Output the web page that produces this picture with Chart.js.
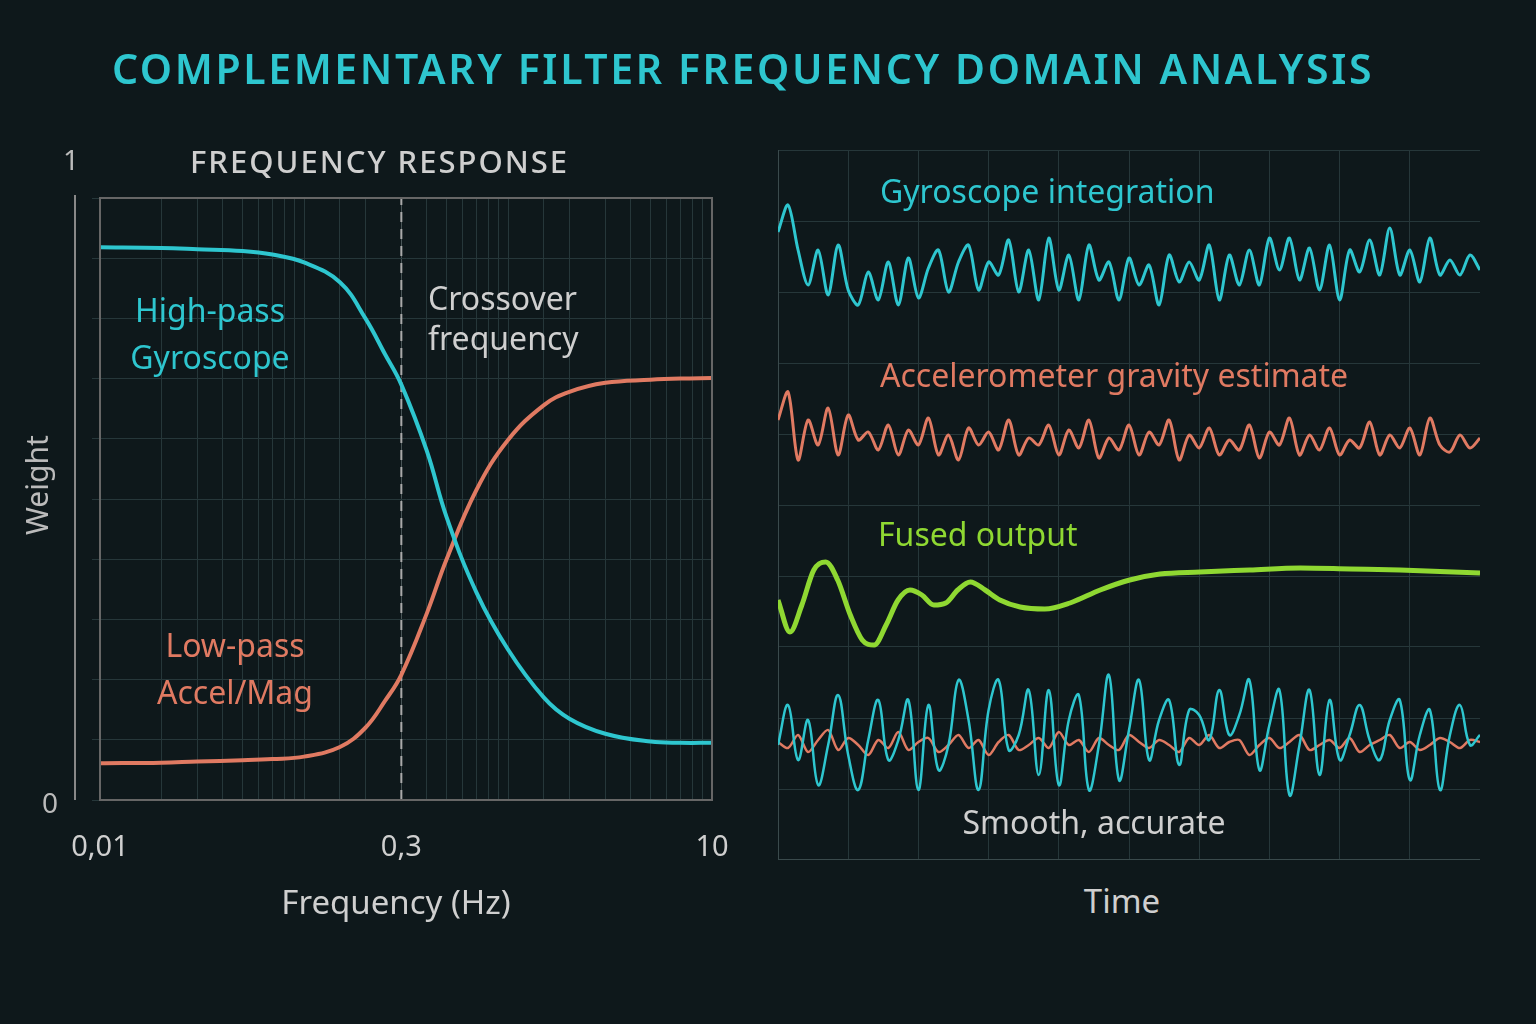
<!DOCTYPE html>
<html><head><meta charset="utf-8">
<script src="https://cdn.jsdelivr.net/npm/chart.js@4"></script>
<style>
body{margin:0;width:1536px;height:1024px;background:#0e181b;overflow:hidden;font-family:"Noto Sans",sans-serif;position:relative}
.t{position:absolute;white-space:nowrap;line-height:1}
canvas{position:absolute}
</style></head><body>
<canvas id="l" style="left:0;top:0;width:760px;height:1024px" width="760" height="1024"></canvas>
<canvas id="r" style="left:778px;top:150px;width:702px;height:710px" width="702" height="710"></canvas>
<div class="t" style="left:0;width:1486px;text-align:center;top:48px;font-size:41px;color:#2ec6cf;letter-spacing:2.6px;font-weight:600">COMPLEMENTARY FILTER FREQUENCY DOMAIN ANALYSIS</div>
<div class="t" style="left:190px;top:146px;font-size:31px;color:#cfcfcf;letter-spacing:2px;font-weight:500">FREQUENCY RESPONSE</div>
<div class="t" style="left:63px;top:145px;font-size:28px;color:#bbb">1</div>
<div class="t" style="left:42px;top:788px;font-size:28px;color:#bbb">0</div>
<div class="t" style="left:22px;top:480px;font-size:30px;color:#bbb;transform:translate(0,-50%) rotate(-90deg);transform-origin:50% 50%;width:30px;text-align:center"><span style="display:inline-block;margin-left:-40px">Weight</span></div>
<div class="t" style="left:110px;top:286px;width:200px;text-align:center;font-size:32px;color:#2ec6cf;line-height:47px">High-pass<br>Gyroscope</div>
<div class="t" style="left:428px;top:278px;font-size:32px;color:#cfcfcf;line-height:40px">Crossover<br>frequency</div>
<div class="t" style="left:135px;top:621px;width:200px;text-align:center;font-size:32px;color:#e07a62;line-height:47px">Low-pass<br>Accel/Mag</div>
<div class="t" style="left:396px;top:885px;transform:translateX(-50%);font-size:33px;color:#cfcfcf">Frequency (Hz)</div>
<div class="t" style="left:880px;top:175px;font-size:32px;color:#2ec6cf">Gyroscope integration</div>
<div class="t" style="left:880px;top:359px;font-size:32px;color:#e07a62">Accelerometer gravity estimate</div>
<div class="t" style="left:878px;top:518px;font-size:32px;color:#8fd832">Fused output</div>
<div class="t" style="left:1094px;top:806px;transform:translateX(-50%);font-size:32px;color:#cfcfcf">Smooth, accurate</div>
<div class="t" style="left:1122px;top:884px;transform:translateX(-50%);font-size:33px;color:#cfcfcf">Time</div>
<script>
// Left: frequency response
const freqs=[0.01,0.02,0.03,0.05,0.07,0.1,0.15,0.2,0.25,0.3,0.4,0.5,0.7,1,1.5,2,3,5,7,10];
const highPass=[0.918,0.917,0.915,0.912,0.906,0.893,0.86,0.80,0.74,0.69,0.58,0.47,0.345,0.25,0.17,0.135,0.11,0.097,0.095,0.095];
const lowPass=[0.061,0.062,0.064,0.066,0.068,0.072,0.088,0.12,0.165,0.208,0.31,0.40,0.515,0.598,0.656,0.678,0.693,0.698,0.700,0.701];
const xTicks=[0.01,0.3,10];
const crossover=0.3;

// Right: time domain (signal level units, larger = lower on screen)
const gyro=[232,205,250,285,250,295,245,290,305,272,300,262,305,258,298,268,250,292,262,245,290,262,275,240,292,250,300,238,290,255,300,245,280,262,300,258,285,265,305,255,282,262,280,245,300,255,285,250,285,238,270,238,280,248,290,245,300,250,272,240,275,228,275,250,282,238,275,260,275,255,270];
const accel=[420,392,460,420,445,408,455,415,440,432,450,425,455,430,445,418,455,435,460,428,445,432,450,420,455,438,445,425,455,430,448,420,458,438,450,425,455,432,445,420,460,435,448,428,455,440,450,425,458,432,445,418,455,435,450,428,455,440,448,422,455,435,448,428,455,418,445,452,435,448,438];
const fusedT=[0,1.7,3.4,5.1,6.8,8.5,10.3,12,13.7,15.4,17.1,18.8,20.5,22.2,23.9,25.6,27.4,29.5,31.6,34.5,38,41.6,45.9,50.1,54.4,60.1,67.2,74.4,81.5,88.6,100];
const fused=[600,632,605,570,562,580,615,640,645,625,600,590,595,605,603,590,582,590,600,607,609,603,590,580,574,572,570,568,569,570,573];
const gyroRaw=[745,705,760,720,785,745,695,755,790,740,700,760,740,700,790,705,770,745,680,720,790,710,680,750,735,690,775,690,785,720,695,790,745,675,780,730,680,760,720,700,765,710,715,740,690,735,715,680,770,725,690,795,745,690,775,700,760,735,705,740,760,720,700,780,735,710,790,735,705,745,735];
const accelRaw=[742,748,735,752,740,730,750,738,745,755,740,748,732,750,742,738,752,745,735,748,740,755,742,735,750,745,738,748,732,745,740,752,738,745,750,735,742,748,740,745,752,738,745,735,748,742,740,755,745,738,748,742,735,750,745,740,748,738,752,745,740,735,748,742,750,745,738,742,748,740,742];

const CY='#2ec6cf',OR='#e07a62',GR='#8fd832',GRID='#26373a';
const pts=(xs,ys)=>ys.map((y,i)=>({x:xs[i],y}));
const even=ys=>ys.map((y,i)=>({x:i*100/(ys.length-1),y}));
const isMain=v=>xTicks.some(t=>Math.abs(t-v)<1e-9);

const leftAxis={id:'la',afterDraw(c){const g=c.ctx,a=c.chartArea;g.save();g.strokeStyle='#888';g.lineWidth=2;g.beginPath();g.moveTo(75,a.top-3);g.lineTo(75,a.bottom);g.stroke();g.restore();}};
new Chart(document.getElementById('l'),{type:'line',
data:{datasets:[
{data:pts(freqs,highPass),borderColor:CY,borderWidth:4,pointRadius:0,tension:0.4},
{data:pts(freqs,lowPass),borderColor:OR,borderWidth:4,pointRadius:0,tension:0.4},
{data:[{x:crossover,y:0},{x:crossover,y:1}],borderColor:'#aaa',borderWidth:2,borderDash:[10,7],pointRadius:0}
]},
options:{responsive:false,animation:false,layout:{padding:{left:100,top:198,right:48,bottom:154}},
plugins:{legend:{display:false},tooltip:{enabled:false}},
scales:{
x:{type:'logarithmic',min:0.01,max:10,border:{color:'#777',width:2},
 afterBuildTicks:s=>{if(!s.ticks.some(t=>isMain(t.value)&&Math.abs(t.value-0.3)<1e-9))s.ticks.push({value:0.3});s.ticks.sort((a,b)=>a.value-b.value);},
 grid:{color:c=>(c.tick&&isMain(c.tick.value))?'#4a5658':GRID,lineWidth:1,tickLength:0},
 ticks:{color:'#cfcfcf',font:{size:29,family:'Noto Sans'},padding:30,maxRotation:0,autoSkip:false,
  callback:(v)=>isMain(v)?String(Math.round(v*100)/100).replace('.',','):''},
 afterFit:s=>{s.height=70}},
y:{min:0,max:1,border:{color:'#777',width:2},grid:{color:GRID},ticks:{display:false,stepSize:0.1},afterFit:s=>{s.width=0}}
}},
plugins:[leftAxis,{id:'box',afterDraw(c){const g=c.ctx,a=c.chartArea;g.save();g.strokeStyle='#666';g.lineWidth=2;g.strokeRect(a.left,a.top,a.right-a.left,a.bottom-a.top);g.restore();}}]
});

new Chart(document.getElementById('r'),{type:'line',
data:{datasets:[
{data:even(gyro),borderColor:CY,borderWidth:3,pointRadius:0,tension:0.3},
{data:even(accel),borderColor:OR,borderWidth:3,pointRadius:0,tension:0.3},
{data:pts(fusedT,fused),borderColor:GR,borderWidth:5,pointRadius:0,tension:0.4,cubicInterpolationMode:'monotone'},
{data:even(gyroRaw),borderColor:CY,borderWidth:2.5,pointRadius:0,tension:0.4},
{data:even(accelRaw),borderColor:OR,borderWidth:2.5,pointRadius:0,tension:0.3}
]},
options:{responsive:false,animation:false,layout:{padding:0},
plugins:{legend:{display:false},tooltip:{enabled:false}},
scales:{
x:{type:'linear',min:0,max:100,border:{color:'#3a4a4c',width:2},grid:{color:GRID,tickLength:0},ticks:{display:false,stepSize:10},afterFit:s=>{s.height=0}},
y:{min:150,max:860,reverse:true,border:{color:'#3a4a4c',width:2},grid:{color:GRID,tickLength:0},ticks:{display:false,stepSize:71},afterFit:s=>{s.width=0}}
}}});
</script></body></html>
